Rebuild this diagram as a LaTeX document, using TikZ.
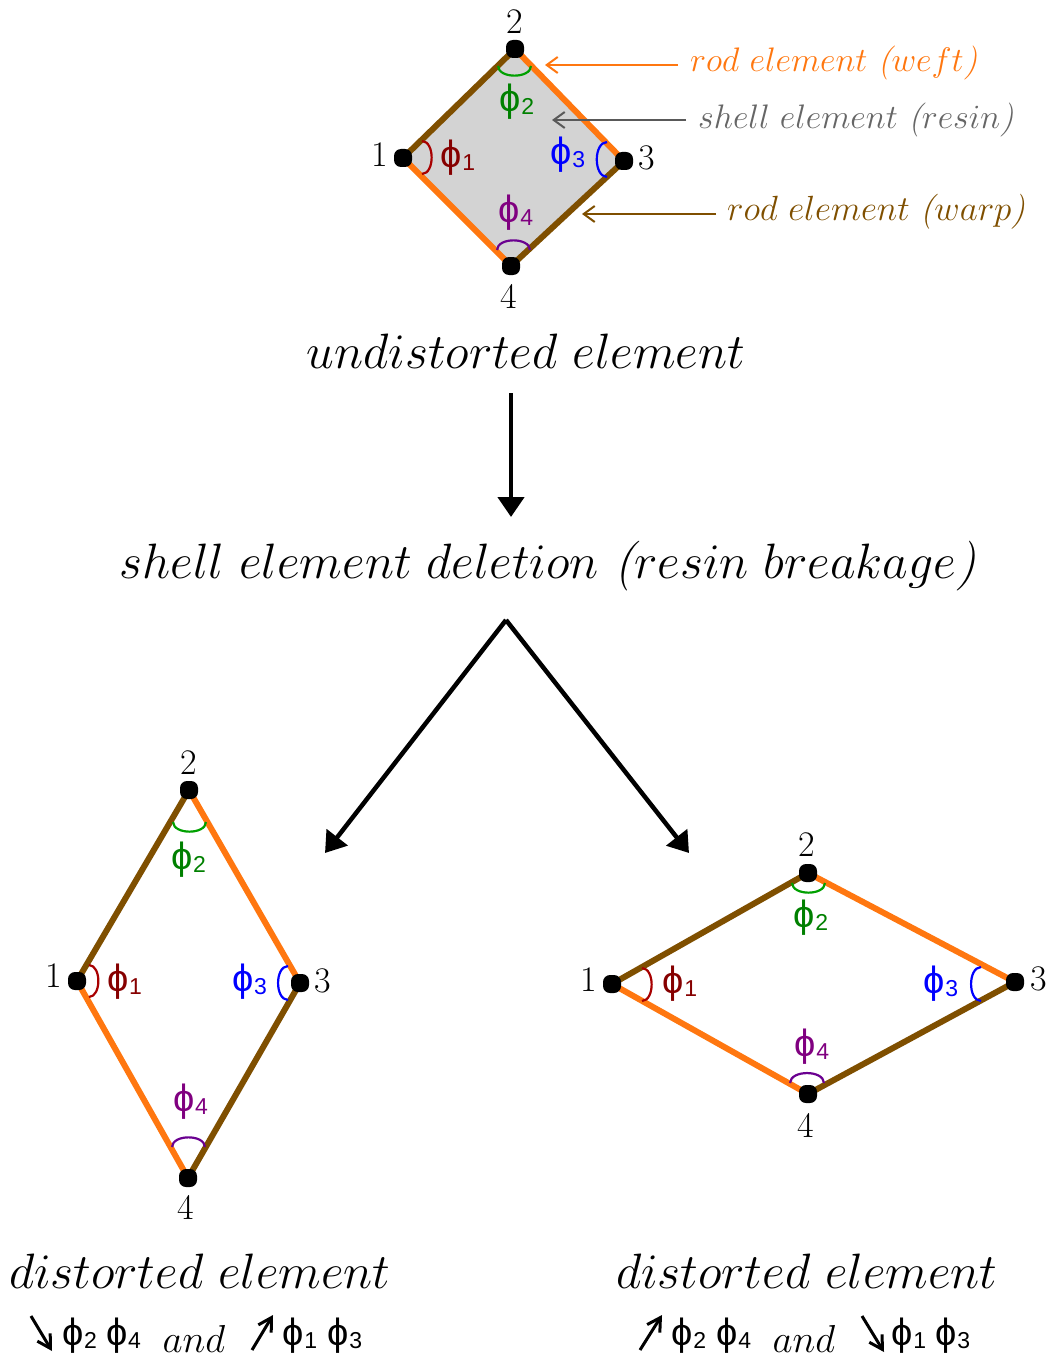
\documentclass[tikz,border=0pt]{standalone}
\usepackage{fix-cm}
\usepackage{fontspec}
\setsansfont{Liberation Sans}
\usetikzlibrary{arrows.meta,positioning,backgrounds}
\definecolor{rodweft}{HTML}{FF7710}
\definecolor{rodwarp}{HTML}{7F4F00}
\definecolor{resin}{HTML}{D3D3D3}
\definecolor{arcred}{HTML}{A80000}
\definecolor{arcgreen}{HTML}{00A000}
\definecolor{arcpurple}{HTML}{6A0090}
\definecolor{phired}{HTML}{860000}
\definecolor{phigreen}{HTML}{008000}
\definecolor{phipurple}{HTML}{800080}
\newcommand{\angphi}[1]{{\fontsize{38}{42}\selectfont\sffamily ϕ\raisebox{-3pt}{\fontsize{23}{26}\selectfont #1}}}

\begin{document}
\begin{tikzpicture}[x=1pt,y=-1pt,
      dot/.style={rectangle,rounded corners=7pt,fill=black,inner sep=0pt,minimum size=18pt},
      num/.style={inner sep=0pt,font=\fontsize{36}{40}\selectfont},
      phi/.style={inner sep=0pt},
      title/.style={inner sep=0pt,font=\fontsize{49.7}{54}\selectfont},
      tag/.style={inner sep=0pt,font=\fontsize{34}{38}\selectfont},
      word/.style={inner sep=0pt,font=\fontsize{39}{42}\selectfont},
      weft/.style={rodweft,line width=6pt},
      warp/.style={rodwarp,line width=6pt},
      bigarrow/.style={-{Triangle[length=20pt,width=26pt]},line width=4.5pt},
      thinarrow/.style={-{Straight Barb[length=11pt,width=16pt]},line width=2pt},
      trend/.style={-{Straight Barb[length=13pt,width=15pt]},line width=3pt},
      angarc/.style={line width=2.2pt,bend left=88},
    ]
    \useasboundingbox (0,0) rectangle (1053,1364);

    % undistorted element
    \node[dot] (t1) at (403,158) {};
    \node[dot] (t2) at (515,49)  {};
    \node[dot] (t3) at (624,161) {};
    \node[dot] (t4) at (511,266) {};
    \begin{scope}[on background layer]
      \fill[resin] (t1.center) -- (t2.center) -- (t3.center) -- (t4.center) -- cycle;
      \draw[warp] (t1.center) -- (t2.center);
      \draw[weft] (t2.center) -- (t3.center);
      \draw[warp] (t3.center) -- (t4.center);
      \draw[weft] (t4.center) -- (t1.center);
    \end{scope}
    \node[num] at (380,155) {1};
    \node[num] at (515,22)  {2};
    \node[num] at (647,158) {3};
    \node[num] at (509,296) {4};
    \draw[arcred,angarc]    (t1) ++(19,-17) to ++(0,33);
    \draw[arcgreen,angarc]  (t2) ++(16,17)  to ++(-33,0);
    \draw[blue,angarc]      (t3) ++(-17,16) to ++(0,-35);
    \draw[arcpurple,angarc] (t4) ++(-14,-16) to ++(33,0);
    \node[phi,phired]    at (458,158) {\angphi{1}};
    \node[phi,phigreen]  at (517,102) {\angphi{2}};
    \node[phi,blue]      at (568,155) {\angphi{3}};
    \node[phi,phipurple] at (516,213) {\angphi{4}};

    % element labels
    \node[tag,rodweft,anchor=west] (lweft) at (690,63) {$rod\ element\ \textit{(}weft\textit{)}$};
    \node[tag,black!60,anchor=west] (lshell) at (698,120) {$shell\ element\ \textit{(}resin\textit{)}$};
    \node[tag,rodwarp,anchor=west,font=\fontsize{35}{38}\selectfont] (lwarp) at (727,212) {$rod\ element\ \textit{(}warp\textit{)}$};
    \coordinate (aweft) at (545,65);
    \coordinate (ashell) at (552,120);
    \coordinate (awarp) at (582,214);
    \draw[thinarrow,rodweft] (lweft.west |- aweft) ++(-12,0) -- (aweft);
    \draw[thinarrow,black!65] (lshell.west |- ashell) ++(-12,0) -- (ashell);
    \draw[thinarrow,rodwarp] (lwarp.west |- awarp) ++(-11,0) -- (awarp);

    % flow
    \node[title] (undist) at (526,351) {$undistorted\ element$};
    \node[title] (delete) at (548,566) {$shell\ element\ deletion\ \textit{(}resin\ breakage\textit{)}$};
    \coordinate (down1) at (511,393);
    \coordinate (down2) at (511,517);
    \draw[bigarrow] (down1) -- (down2);
    \coordinate (split) at (506,620);
    \coordinate (splitl) at (325,853);
    \coordinate (splitr) at (689,853);
    \draw[bigarrow] (split) -- (splitl);
    \draw[bigarrow] (split) -- (splitr);

    % distorted element, left
    \node[dot] (l1) at (77,981)  {};
    \node[dot] (l2) at (189,790) {};
    \node[dot] (l3) at (300,983) {};
    \node[dot] (l4) at (188,1178) {};
    \begin{scope}[on background layer]
      \draw[warp] (l1.center) -- (l2.center);
      \draw[weft] (l2.center) -- (l3.center);
      \draw[warp] (l3.center) -- (l4.center);
      \draw[weft] (l4.center) -- (l1.center);
    \end{scope}
    \node[num] at (54,976)  {1};
    \node[num] at (189,763) {2};
    \node[num] at (323,981) {3};
    \node[num] at (186,1207) {4};
    \draw[arcred,angarc]    (l1) ++(12,-16) to ++(0,32);
    \draw[arcgreen,angarc]  (l2) ++(17,32)  to ++(-33,0);
    \draw[blue,angarc]      (l3) ++(-12,17) to ++(0,-34);
    \draw[arcpurple,angarc] (l4) ++(-16,-31) to ++(33,0);
    \node[phi,phired]    at (125,982)  {\angphi{1}};
    \node[phi,phigreen]  at (189,860)  {\angphi{2}};
    \node[phi,blue]      at (250,982)  {\angphi{3}};
    \node[phi,phipurple] at (191,1102) {\angphi{4}};

    % distorted element, right
    \node[dot] (r1) at (612,984)  {};
    \node[dot] (r2) at (808,873)  {};
    \node[dot] (r3) at (1015,982) {};
    \node[dot] (r4) at (808,1094) {};
    \begin{scope}[on background layer]
      \draw[warp] (r1.center) -- (r2.center);
      \draw[weft] (r2.center) -- (r3.center);
      \draw[warp] (r3.center) -- (r4.center);
      \draw[weft] (r4.center) -- (r1.center);
    \end{scope}
    \node[num] at (589,980)  {1};
    \node[num] at (807,845)  {2};
    \node[num] at (1039,979) {3};
    \node[num] at (806,1125) {4};
    \draw[arcred,angarc]    (r1) ++(30,-16) to ++(0,33);
    \draw[arcgreen,angarc]  (r2) ++(17,10)  to ++(-33,0);
    \draw[blue,angarc]      (r3) ++(-34,19) to ++(0,-34);
    \draw[arcpurple,angarc] (r4) ++(-18,-11) to ++(34,0);
    \node[phi,phired]    at (680,984)  {\angphi{1}};
    \node[phi,phigreen]  at (811,918)  {\angphi{2}};
    \node[phi,blue]      at (941,984)  {\angphi{3}};
    \node[phi,phipurple] at (812,1047) {\angphi{4}};

    % captions
    \node[title] (capl) at (200,1271) {$distorted\ element$};
    \node[title] (capr) at (807,1271) {$distorted\ element$};
    \coordinate (d1a) at (31,1316);  \coordinate (d1b) at (52,1351);
    \coordinate (u1a) at (252,1350); \coordinate (u1b) at (273,1315);
    \coordinate (u2a) at (640,1350); \coordinate (u2b) at (662,1315);
    \coordinate (d2a) at (862,1316); \coordinate (d2b) at (884,1352);
    \draw[trend] (d1a) -- (d1b);
    \draw[trend] (u1a) -- (u1b);
    \draw[trend] (u2a) -- (u2b);
    \draw[trend] (d2a) -- (d2b);
    \node[phi] at (80,1336)  {\angphi{2}};
    \node[phi] at (124,1336) {\angphi{4}};
    \node[word] at (194,1339) {$and$};
    \node[phi] at (300,1336) {\angphi{1}};
    \node[phi] at (345,1336) {\angphi{3}};
    \node[phi] at (689,1336) {\angphi{2}};
    \node[phi] at (734,1336) {\angphi{4}};
    \node[word] at (804,1339) {$and$};
    \node[phi] at (909,1336) {\angphi{1}};
    \node[phi] at (953,1336) {\angphi{3}};
\end{tikzpicture}
\end{document}
